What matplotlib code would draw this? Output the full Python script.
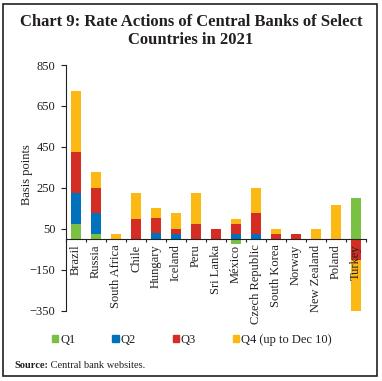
import matplotlib

matplotlib.use("Agg")
import matplotlib.pyplot as plt
import numpy as np
from matplotlib.patches import Patch, Rectangle

plt.rcParams.update(
    {
        "font.family": ["Liberation Serif", "DejaVu Serif"],
        "font.size": 9,
        "text.color": "#231f20",
        "axes.edgecolor": "#231f20",
        "xtick.color": "#231f20",
        "ytick.color": "#231f20",
        "axes.linewidth": 0.8,
    }
)

COUNTRIES = [
    "Brazil", "Russia", "South Africa", "Chile", "Hungary", "Iceland", "Peru",
    "Sri Lanka", "México", "Czech Republic", "South Korea", "Norway",
    "New Zealand", "Poland", "Turkey",
]
# basis points per quarter (Q4 up to Dec 10)
Q1 = [75, 25, 0, 0, 0, 0, 0, 0, -25, 0, 0, 0, 0, 0, 200]
Q2 = [150, 100, 0, 0, 30, 25, 0, 0, 25, 25, 0, 0, 0, 0, 0]
Q3 = [200, 125, 0, 100, 75, 25, 75, 50, 50, 100, 25, 25, 0, 0, -100]
Q4 = [300, 75, 25, 125, 45, 75, 150, 0, 25, 125, 25, 0, 50, 165, -300]
QUARTERS = ["Q1", "Q2", "Q3", "Q4 (up to Dec 10)"]
COLORS = ["#7ac143", "#0072bc", "#d42e24", "#fdb913"]
YTICKS = [-350, -150, 50, 250, 450, 650, 850]

W, H = 382, 381


def main() -> None:
    fig = plt.figure(figsize=(W / 100, H / 100), dpi=100)
    ax = fig.add_axes([66 / W, 1 - 310.7 / H, 300 / W, 245.7 / H])

    x = np.arange(len(COUNTRIES))
    pos = np.zeros(len(x))
    neg = np.zeros(len(x))
    for vals, color in zip((Q1, Q2, Q3, Q4), COLORS):
        vals = np.array(vals, dtype=float)
        bottom = np.where(vals >= 0, pos, neg)
        ax.bar(x, vals, 0.48, bottom=bottom, color=color, linewidth=0, zorder=1)
        pos += np.clip(vals, 0, None)
        neg += np.clip(vals, None, 0)

    ax.set_xlim(-0.5, len(x) - 0.5)
    ax.set_ylim(-350, 850)
    ax.set_yticks(YTICKS)
    ax.tick_params(axis="y", length=3.6, width=0.8, pad=4, labelsize=9)

    ax.spines[["top", "right"]].set_visible(False)
    ax.spines["bottom"].set_position(("data", 0))
    ax.set_xticks(x, COUNTRIES, rotation=90)
    ax.tick_params(axis="x", which="major", length=0, pad=4, labelsize=9)
    ax.set_xticks(np.arange(-0.5, len(x)), minor=True)
    ax.tick_params(axis="x", which="minor", length=2.4, width=0.8, direction="out")

    fig.text(27 / W, 1 - 175 / H, "Basis points", rotation=90, ha="center", va="center", fontsize=9)

    fig.text(
        0.5, 1 - 31 / H, "Chart 9: Rate Actions of Central Banks of Select\nCountries in 2021",
        ha="center", va="center", fontsize=12, fontweight="bold", linespacing=1.25,
    )

    handles = [Patch(color=c) for c in COLORS]
    fig.legend(
        handles, QUARTERS, loc="center left", bbox_to_anchor=(52 / W, 1 - 340 / H),
        ncol=4, frameon=False, handlelength=0.5, handleheight=0.5, handletextpad=0.15,
        columnspacing=2.95, borderaxespad=0, borderpad=0, fontsize=9,
    )

    src = fig.text(14 / W, 1 - 365 / H, "Source:", fontweight="bold", fontsize=7.5, va="center")
    ax.annotate(
        " Central bank websites.", xy=(1, 0.5), xycoords=src, va="center", fontsize=7.5,
        annotation_clip=False,
    )

    fig.add_artist(
        Rectangle((3 / W, 5 / H), 374 / W, 372 / H, transform=fig.transFigure,
                  fill=False, lw=1.2, ec="#231f20")
    )

    fig.savefig("out.png", dpi=100)


if __name__ == "__main__":
    main()
